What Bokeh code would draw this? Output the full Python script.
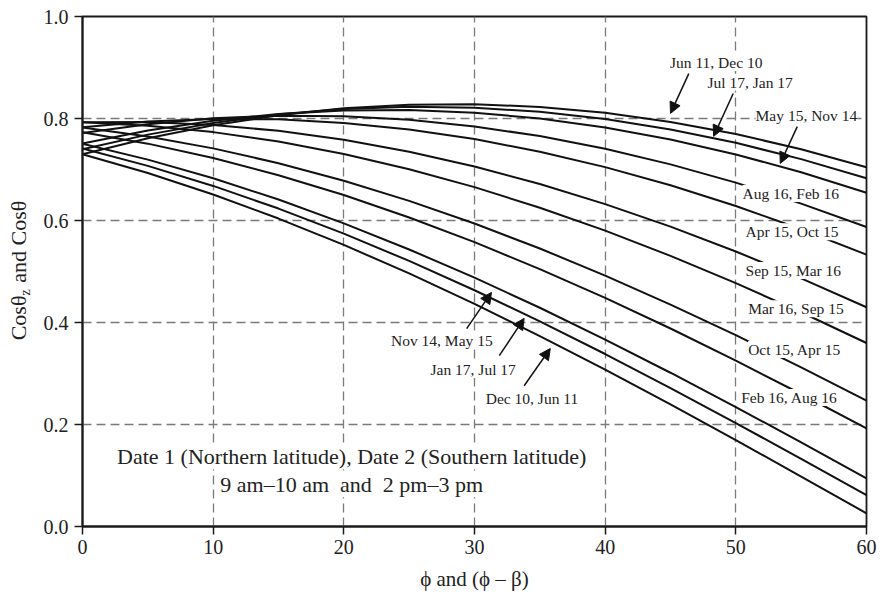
from bokeh.plotting import figure
from bokeh.layouts import row
from bokeh.models import (Label, Arrow, NormalHead, FixedTicker, NumeralTickFormatter,
                          Range1d, ColumnDataSource)
from bokeh.core.properties import value
from bokeh.embed import file_html
from bokeh.resources import INLINE
import math

# ---------------- data ----------------
phi = [0, 5, 10, 15, 20, 25, 30, 35, 40, 45, 50, 55, 60]

jun11 = [0.7298, 0.7612, 0.7868, 0.8064, 0.8199, 0.8271, 0.8281, 0.8227, 0.8111, 0.7933, 0.7695, 0.7398, 0.7045]
jul17 = [0.7398, 0.7684, 0.7913, 0.8081, 0.8187, 0.8231, 0.8213, 0.8132, 0.7989, 0.7786, 0.7523, 0.7203, 0.6828]
may15 = [0.7511, 0.7763, 0.7956, 0.8088, 0.8159, 0.8168, 0.8115, 0.8000, 0.7824, 0.7589, 0.7295, 0.6947, 0.6545]
aug16 = [0.7716, 0.7889, 0.8003, 0.8055, 0.8046, 0.7976, 0.7845, 0.7655, 0.7406, 0.7101, 0.6742, 0.6331, 0.5873]
apr15 = [0.7827, 0.7939, 0.7992, 0.7983, 0.7914, 0.7785, 0.7596, 0.7349, 0.7047, 0.6691, 0.6284, 0.5829, 0.5330]
sep15 = [0.7928, 0.7931, 0.7874, 0.7758, 0.7582, 0.7348, 0.7059, 0.6716, 0.6321, 0.5879, 0.5392, 0.4864, 0.4299]
mar16 = [0.7926, 0.7859, 0.7733, 0.7547, 0.7304, 0.7005, 0.6654, 0.6251, 0.5801, 0.5307, 0.4772, 0.4201, 0.3598]
oct15 = [0.7822, 0.7647, 0.7414, 0.7124, 0.6780, 0.6385, 0.5941, 0.5451, 0.4920, 0.4352, 0.3751, 0.3121, 0.2467]
feb16 = [0.7732, 0.7507, 0.7225, 0.6888, 0.6499, 0.6060, 0.5575, 0.5047, 0.4482, 0.3882, 0.3252, 0.2598, 0.1924]
nov14 = [0.7505, 0.7194, 0.6828, 0.6411, 0.5944, 0.5432, 0.4879, 0.4289, 0.3666, 0.3015, 0.2341, 0.1650, 0.0946]
jan17 = [0.7411, 0.7071, 0.6678, 0.6234, 0.5742, 0.5207, 0.4632, 0.4022, 0.3382, 0.2715, 0.2028, 0.1326, 0.0613]
dec10 = [0.7300, 0.6931, 0.6509, 0.6038, 0.5521, 0.4962, 0.4365, 0.3734, 0.3076, 0.2394, 0.1693, 0.0980, 0.0259]

series = [jun11, jul17, may15, aug16, apr15, sep15, mar16, oct15, feb16, nov14, jan17, dec10]

x_ticks = [0, 10, 20, 30, 40, 50, 60]
y_ticks = [0.0, 0.2, 0.4, 0.6, 0.8, 1.0]

curve_labels = ["Jun 11, Dec 10", "Jul 17, Jan 17", "May 15, Nov 14",
                "Aug 16, Feb 16", "Apr 15, Oct 15", "Sep 15, Mar 16",
                "Mar 16, Sep 15", "Oct 15, Apr 15", "Feb 16, Aug 16",
                "Nov 14, May 15", "Jan 17, Jul 17", "Dec 10, Jun 11"]
label_x = [48.5, 51.1, 55.4, 54.2, 54.3, 54.4, 54.6, 54.5, 54.1, 27.5, 29.9, 34.4]
label_y = [0.910, 0.871, 0.806, 0.653, 0.578, 0.502, 0.427, 0.347, 0.253, 0.365, 0.308, 0.251]

arrow_x0 = [46.4, 49.8, 54.7, 29.4, 31.9, 33.8]
arrow_y0 = [0.888, 0.849, 0.784, 0.388, 0.335, 0.276]
arrow_x1 = [45.0, 48.3, 53.4, 31.3, 33.8, 35.8]
arrow_y1 = [0.810, 0.765, 0.712, 0.459, 0.408, 0.349]

note_lines = ["Date 1 (Northern latitude), Date 2 (Southern latitude)",
              "9 am\u201310 am\u00a0 and\u00a0 2 pm\u20133 pm"]

y_label_parts = ["Cos\u03b8", "z", "and Cos\u03b8"]

FONT = "Liberation Serif"
INK = "#1a1a1a"
TXT = "#222222"

TOP, BOTTOM, HEIGHT = 16, 68, 594

# ---------------- main figure ----------------
p = figure(width=838, height=HEIGHT, x_range=Range1d(0, 60), y_range=Range1d(0, 1.0),
           output_backend="svg", toolbar_location=None,
           min_border_left=41, min_border_right=12, min_border_top=TOP, min_border_bottom=BOTTOM)
p.background_fill_color = "white"
p.border_fill_color = "white"
p.outline_line_color = INK
p.outline_line_width = 1.8

# grid
p.xgrid.ticker = FixedTicker(ticks=[10, 20, 30, 40, 50])
p.ygrid.ticker = FixedTicker(ticks=[0.2, 0.4, 0.6, 0.8])
for g in (p.xgrid, p.ygrid):
    g.grid_line_color = "#7a7a7a"
    g.grid_line_dash = "9 5"
    g.grid_line_width = 1.3

# axes
p.xaxis.ticker = FixedTicker(ticks=x_ticks)
p.yaxis.ticker = FixedTicker(ticks=y_ticks)
p.yaxis.formatter = NumeralTickFormatter(format="0.0")
for ax in (p.xaxis, p.yaxis):
    ax.axis_line_color = INK
    ax.axis_line_width = 2
    ax.major_tick_line_color = INK
    ax.major_tick_line_width = 1.5
    ax.major_tick_out = 8
    ax.major_tick_in = 0
    ax.minor_tick_line_color = None
    ax.major_label_text_font = FONT
    ax.major_label_text_font_size = "20px"
    ax.major_label_text_color = TXT
p.xaxis.major_label_standoff = 5
p.yaxis.major_label_standoff = 6
p.xaxis.axis_label = "\u03d5 and (\u03d5 \u2013 \u03b2)"
p.xaxis.axis_label_text_font = FONT
p.xaxis.axis_label_text_font_size = "21px"
p.xaxis.axis_label_text_font_style = "normal"
p.xaxis.axis_label_text_color = TXT
p.xaxis.axis_label_standoff = 10

# curves
for ys in series:
    src = ColumnDataSource(data=dict(x=phi, y=ys))
    p.line("x", "y", source=src, line_color="#111111", line_width=2)

# curve labels (white background hides lines behind them)
for t, lx, ly in zip(curve_labels, label_x, label_y):
    p.add_layout(Label(x=lx, y=ly, text=t, text_font=FONT, text_font_size="15.5px",
                       text_color=TXT, text_align="center", text_baseline="middle",
                       background_fill_color="white", background_fill_alpha=1.0))

# note text
note_y = [0.137, 0.082]
for t, ny in zip(note_lines, note_y):
    p.add_layout(Label(x=20.6, y=ny, text=t, text_font=FONT, text_font_size="22px",
                       text_color=TXT, text_align="center", text_baseline="middle",
                       background_fill_color="white", background_fill_alpha=1.0))

# arrows
asrc = ColumnDataSource(data=dict(x0=arrow_x0, y0=arrow_y0, x1=arrow_x1, y1=arrow_y1))
p.add_layout(Arrow(x_start="x0", y_start="y0", x_end="x1", y_end="y1", source=asrc,
                   line_color="#111111", line_width=1.5,
                   end=NormalHead(size=11, fill_color="#111111", line_color="#111111")))

# ---------------- left strip holding the rotated y-axis title ----------------
q = figure(width=40, height=HEIGHT, x_range=Range1d(0, 40), y_range=Range1d(0, 1.0),
           output_backend="svg", toolbar_location=None,
           x_axis_location=None, y_axis_location=None,
           min_border_left=0, min_border_right=0, min_border_top=TOP, min_border_bottom=BOTTOM)
q.outline_line_color = None
q.grid.visible = False
q.background_fill_color = "white"
q.border_fill_color = "white"

q.text(x=[18], y=[0.365], text=[y_label_parts[0]], angle=math.pi / 2,
       text_align="left", text_baseline="middle", text_font=value(FONT),
       text_font_size="22px", text_color=TXT)
q.text(x=[25], y=[0.453], text=[y_label_parts[1]], angle=math.pi / 2,
       text_align="left", text_baseline="middle", text_font=value(FONT),
       text_font_size="14px", text_color=TXT)
q.text(x=[18], y=[0.478], text=[y_label_parts[2]], angle=math.pi / 2,
       text_align="left", text_baseline="middle", text_font=value(FONT),
       text_font_size="22px", text_color=TXT)

layout = row(q, p)
open("out.html", "w").write(file_html(layout, INLINE))
